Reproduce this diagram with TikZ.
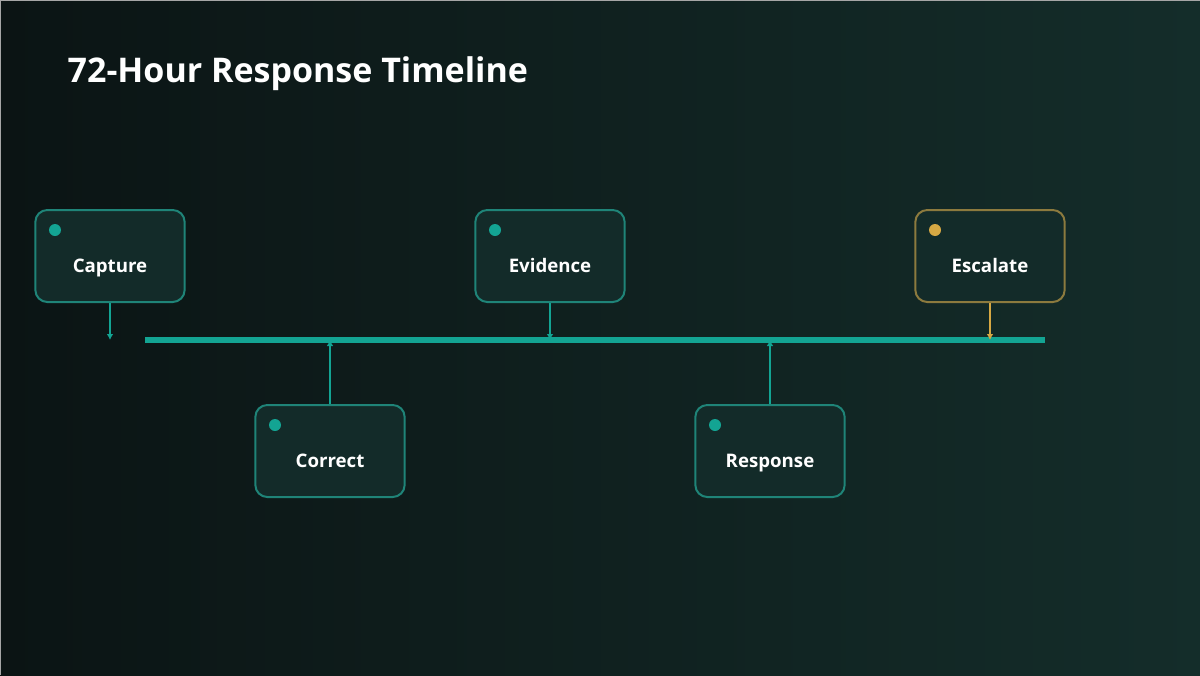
\documentclass[tikz,border=0pt]{standalone}
\usepackage{fontspec}
\setmainfont{Open Sans}
\usepackage{tikz}
\usetikzlibrary{arrows.meta,positioning}

\definecolor{bgleft}{HTML}{0B1414}
\definecolor{bgright}{HTML}{142D2A}
\definecolor{teal}{HTML}{13A493}
\definecolor{tealedge}{HTML}{1F8478}
\definecolor{boxfill}{HTML}{132B29}
\definecolor{gold}{HTML}{D6A843}
\definecolor{goldedge}{HTML}{8C7A3E}

\begin{document}
\begin{tikzpicture}[
    x=0.75pt,y=-0.75pt,
    stage/.style={draw=tealedge,fill=boxfill,line width=1.5pt,rounded corners=9pt,
        minimum width=112pt,minimum height=69pt,text=white,
        text height=24pt,text depth=0pt,
        font=\fontsize{14pt}{16pt}\selectfont\bfseries},
    alert/.style={stage,draw=goldedge},
    dot/.style={circle,fill=#1,inner sep=0pt,minimum size=9pt},
    arr/.style={-{Latex[length=4.5pt,width=5pt]},line width=2pt,draw=teal}
]
% background
\shade[left color=bgleft,right color=bgright] (0,0) rectangle (1200,675);
\useasboundingbox (0,0) rectangle (1200,675);
\draw[gray!70,line width=0.75pt] (0,675) -- (0,0) -- (1200,0);

\node[anchor=west,text=white,font=\fontsize{25.5pt}{30pt}\selectfont\bfseries] (title) at (63,74) {72-Hour Response Timeline};

% timeline
\coordinate (tstart) at (145,340);
\coordinate (tend) at (1045,340);
\draw[teal,line width=4.5pt] (tstart) -- (tend);

% stages
\node[stage] (capture) at (110,256) {Capture};
\node[stage] (correct) at (330,451) {Correct};
\node[stage] (evidence) at (550,256) {Evidence};
\node[stage] (response) at (770,451) {Response};
\node[alert] (escalate) at (990,256) {Escalate};

\node[dot=teal] (dcapture) at (55,230) {};
\node[dot=teal] (dcorrect) at (275,425) {};
\node[dot=teal] (devidence) at (495,230) {};
\node[dot=teal] (dresponse) at (715,425) {};
\node[dot=gold] (descalate) at (935,230) {};

% ticks on the line
\coordinate (pcapture) at (110,340);
\coordinate (pcorrect) at (330,340);
\coordinate (pevidence) at (550,340);
\coordinate (presponse) at (770,340);
\coordinate (pescalate) at (990,340);

\draw[arr] (capture.south) -- (pcapture);
\draw[arr] (correct.north) -- (pcorrect);
\draw[arr] (evidence.south) -- (pevidence);
\draw[arr] (response.north) -- (presponse);
\draw[arr,draw=gold] (escalate.south) -- (pescalate);
\end{tikzpicture}
\end{document}
